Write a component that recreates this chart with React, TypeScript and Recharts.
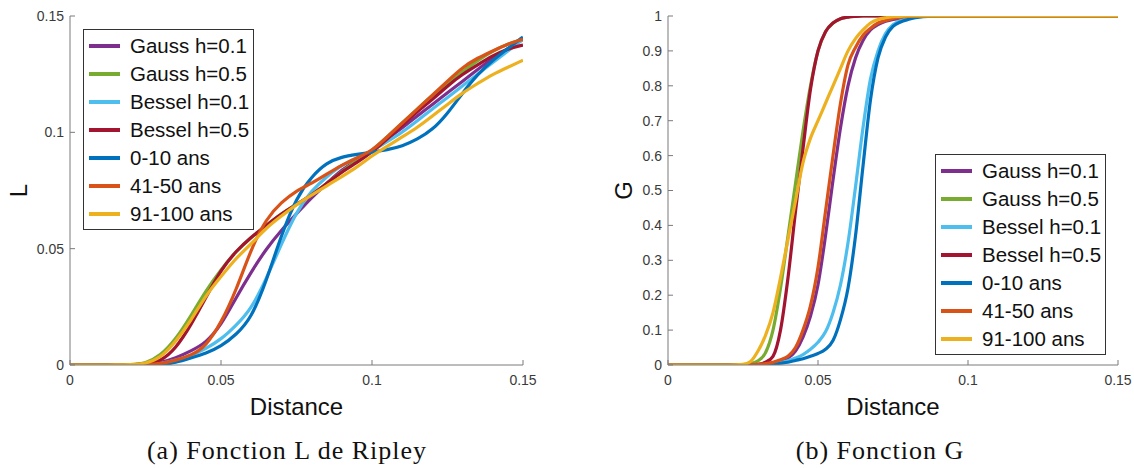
import React from 'react';
import { LineChart, Line, XAxis, YAxis, Legend, Label } from 'recharts';

// ---------- data ----------
const seriesNames = ['Gauss h=0.1', 'Gauss h=0.5', 'Bessel h=0.1', 'Bessel h=0.5', '0-10 ans', '41-50 ans', '91-100 ans'];
const seriesColors = ['#7E2F8E', '#77AC30', '#4DBEEE', '#A2142F', '#0072BD', '#D95319', '#EDB120'];

const xTicks = [0, 0.05, 0.1, 0.15];
const lTicks = [0, 0.05, 0.1, 0.15];
const gTicks = [0, 0.1, 0.2, 0.3, 0.4, 0.5, 0.6, 0.7, 0.8, 0.9, 1];

// Ripley L function
const distanceL = [0, 0.005, 0.01, 0.015, 0.02, 0.025, 0.03, 0.035, 0.04, 0.045, 0.05, 0.055, 0.06, 0.065, 0.07, 0.075, 0.08, 0.085, 0.09, 0.095, 0.1, 0.105, 0.11, 0.115, 0.12, 0.125, 0.13, 0.135, 0.14, 0.145, 0.15];
const lGaussH01 = [0, 0, 0, 0, 0, 0.0002, 0.001, 0.003, 0.006, 0.0095, 0.017, 0.029, 0.04, 0.05, 0.058, 0.065, 0.072, 0.078, 0.084, 0.088, 0.092, 0.097, 0.102, 0.107, 0.112, 0.117, 0.122, 0.127, 0.132, 0.136, 0.14];
const lGaussH05 = [0, 0, 0, 0, 0.0001, 0.0006, 0.004, 0.011, 0.021, 0.032, 0.041, 0.049, 0.055, 0.06, 0.065, 0.069, 0.073, 0.078, 0.083, 0.088, 0.092, 0.098, 0.104, 0.11, 0.116, 0.121, 0.126, 0.131, 0.135, 0.138, 0.14];
const lBesselH01 = [0, 0, 0, 0, 0, 0.0001, 0.0005, 0.002, 0.004, 0.007, 0.011, 0.017, 0.024, 0.037, 0.052, 0.066, 0.075, 0.081, 0.086, 0.089, 0.092, 0.096, 0.1, 0.105, 0.11, 0.115, 0.12, 0.125, 0.13, 0.135, 0.14];
const lBesselH05 = [0, 0, 0, 0, 0, 0.0003, 0.0015, 0.007, 0.017, 0.029, 0.041, 0.049, 0.055, 0.06, 0.065, 0.069, 0.073, 0.078, 0.083, 0.087, 0.0915, 0.097, 0.103, 0.109, 0.114, 0.12, 0.125, 0.129, 0.133, 0.136, 0.1375];
const lAge0to10 = [0, 0, 0, 0, 0, 0, 0, 0.001, 0.003, 0.005, 0.008, 0.013, 0.02, 0.036, 0.056, 0.072, 0.081, 0.087, 0.0895, 0.0905, 0.0915, 0.0925, 0.094, 0.097, 0.101, 0.108, 0.117, 0.125, 0.131, 0.136, 0.141];
const lAge41to50 = [0, 0, 0, 0, 0, 0.0002, 0.0005, 0.002, 0.004, 0.008, 0.018, 0.032, 0.05, 0.063, 0.07, 0.075, 0.078, 0.082, 0.086, 0.089, 0.092, 0.098, 0.104, 0.11, 0.116, 0.122, 0.128, 0.132, 0.135, 0.138, 0.14];
const lAge91to100 = [0, 0, 0, 0, 0.0001, 0.0005, 0.003, 0.01, 0.019, 0.03, 0.038, 0.046, 0.052, 0.059, 0.064, 0.069, 0.073, 0.077, 0.081, 0.085, 0.09, 0.094, 0.098, 0.102, 0.107, 0.112, 0.117, 0.121, 0.125, 0.128, 0.131];

// G function
const distanceG = [0, 0.01, 0.02, 0.025, 0.0275, 0.03, 0.0325, 0.035, 0.0375, 0.04, 0.0425, 0.045, 0.0475, 0.05, 0.0525, 0.055, 0.0575, 0.06, 0.0625, 0.065, 0.0675, 0.07, 0.0725, 0.075, 0.0775, 0.08, 0.0825, 0.085, 0.0875, 0.09, 0.1, 0.15];
const gGaussH01 = [0, 0, 0, 0, 0.0005, 0.001, 0.003, 0.006, 0.012, 0.02, 0.04, 0.08, 0.14, 0.23, 0.37, 0.53, 0.68, 0.8, 0.88, 0.93, 0.96, 0.975, 0.985, 0.99, 0.994, 0.997, 0.998, 0.999, 1, 1, 1, 1];
const gGaussH05 = [0, 0, 0, 0.001, 0.004, 0.012, 0.035, 0.1, 0.22, 0.37, 0.52, 0.67, 0.8, 0.9, 0.955, 0.98, 0.992, 0.997, 0.999, 1, 1, 1, 1, 1, 1, 1, 1, 1, 1, 1, 1, 1];
const gBesselH01 = [0, 0, 0, 0, 0, 0, 0.001, 0.003, 0.007, 0.012, 0.02, 0.03, 0.045, 0.065, 0.095, 0.15, 0.23, 0.35, 0.51, 0.68, 0.82, 0.9, 0.95, 0.975, 0.987, 0.993, 0.997, 0.999, 1, 1, 1, 1];
const gBesselH05 = [0, 0, 0, 0, 0.001, 0.002, 0.008, 0.025, 0.1, 0.25, 0.44, 0.62, 0.79, 0.9, 0.955, 0.98, 0.992, 0.997, 0.999, 1, 1, 1, 1, 1, 1, 1, 1, 1, 1, 1, 1, 1];
const gAge0to10 = [0, 0, 0, 0, 0, 0, 0.001, 0.002, 0.005, 0.008, 0.013, 0.018, 0.025, 0.033, 0.045, 0.07, 0.13, 0.22, 0.37, 0.57, 0.76, 0.88, 0.94, 0.97, 0.983, 0.99, 0.995, 0.998, 0.999, 1, 1, 1];
const gAge41to50 = [0, 0, 0, 0, 0.001, 0.002, 0.004, 0.008, 0.015, 0.025, 0.05, 0.1, 0.17, 0.28, 0.44, 0.6, 0.75, 0.86, 0.91, 0.945, 0.965, 0.98, 0.987, 0.993, 0.996, 0.999, 1, 1, 1, 1, 1, 1];
const gAge91to100 = [0, 0, 0, 0.002, 0.01, 0.04, 0.085, 0.15, 0.25, 0.36, 0.47, 0.58, 0.65, 0.7, 0.75, 0.8, 0.85, 0.9, 0.935, 0.96, 0.98, 0.99, 0.995, 0.998, 0.999, 1, 1, 1, 1, 1, 1, 1];

const lSeries = [lGaussH01, lGaussH05, lBesselH01, lBesselH05, lAge0to10, lAge41to50, lAge91to100];
const gSeries = [gGaussH01, gGaussH05, gBesselH01, gBesselH05, gAge0to10, gAge41to50, gAge91to100];

const buildRows = (xs: number[], series: number[][]) =>
  xs.map((d, i) => {
    const row: Record<string, number> = { d };
    series.forEach((s, k) => {
      row[`s${k}`] = s[i];
    });
    return row;
  });

const lRows = buildRows(distanceL, lSeries);
const gRows = buildRows(distanceG, gSeries);

// ---------- styles ----------
const SANS = '"Liberation Sans", Arial, Helvetica, sans-serif';
const SERIF = '"Liberation Serif", "Times New Roman", serif';
const AXIS_COLOR = '#7a7a7a';
const TICK_COLOR = '#3a3a3a';

const LegendBox = () => (
  <div
    style={{
      border: '1px solid #333',
      background: '#fff',
      width: 169,
      padding: '2px 0 1px 0',
      fontFamily: SANS,
      fontSize: 20.5,
      color: '#111',
      boxSizing: 'content-box',
    }}
  >
    {seriesNames.map((n, k) => (
      <div key={n} style={{ display: 'flex', alignItems: 'center', height: 28 }}>
        <div style={{ width: 31, height: 4, background: seriesColors[k], marginLeft: 5, marginRight: 10 }} />
        <span style={{ whiteSpace: 'nowrap', lineHeight: '28px' }}>{n}</span>
      </div>
    ))}
  </div>
);

const YTitle = (props: any) => {
  const { viewBox, value, dx } = props;
  const cx = viewBox.x + dx;
  const cy = viewBox.y + viewBox.height / 2;
  return (
    <text
      x={cx}
      y={cy}
      transform={`rotate(-90 ${cx} ${cy})`}
      textAnchor="middle"
      dominantBaseline="central"
      fontFamily={SANS}
      fontSize={24}
      fill="#111"
    >
      {value}
    </text>
  );
};

const XTitle = (props: any) => {
  const { viewBox, value } = props;
  const cx = viewBox.x + viewBox.width / 2;
  const cy = viewBox.y + 50;
  return (
    <text x={cx} y={cy} textAnchor="middle" fontFamily={SANS} fontSize={24} fill="#111">
      {value}
    </text>
  );
};

type PanelProps = {
  rows: Record<string, number>[];
  yTicks: number[];
  yMax: number;
  width: number;
  yAxisWidth: number;
  rightMargin: number;
  yTitle: string;
  yTitleDx: number;
  legendLeft: number;
  legendTop: number;
  curve: 'basis' | 'monotone';
};

const Panel = ({ rows, yTicks, yMax, width, yAxisWidth, rightMargin, yTitle, yTitleDx, legendLeft, legendTop, curve }: PanelProps) => (
  <LineChart width={width} height={430} data={rows} margin={{ top: 16, right: rightMargin, left: 0, bottom: 5 }}>
    <XAxis
      dataKey="d"
      type="number"
      domain={[0, 0.15]}
      ticks={xTicks}
      interval={0}
      allowDataOverflow
      height={60}
      tickSize={-5}
      tickMargin={15}
      axisLine={{ stroke: AXIS_COLOR, strokeWidth: 1 }}
      tickLine={{ stroke: AXIS_COLOR, strokeWidth: 1 }}
      tick={{ fill: TICK_COLOR, fontSize: 14, fontFamily: SANS }}
    >
      <Label value="Distance" content={<XTitle />} />
    </XAxis>
    <YAxis
      type="number"
      domain={[0, yMax]}
      ticks={yTicks}
      interval={0}
      allowDataOverflow
      width={yAxisWidth}
      tickSize={-5}
      tickMargin={11}
      axisLine={{ stroke: AXIS_COLOR, strokeWidth: 1 }}
      tickLine={{ stroke: AXIS_COLOR, strokeWidth: 1 }}
      tick={{ fill: TICK_COLOR, fontSize: 14, fontFamily: SANS }}
    >
      <Label value={yTitle} content={<YTitle dx={yTitleDx} />} />
    </YAxis>
    {seriesNames.map((n, k) => (
      <Line
        key={n}
        dataKey={`s${k}`}
        name={n}
        type={curve}
        stroke={seriesColors[k]}
        strokeWidth={3.2}
        dot={false}
        activeDot={false}
        isAnimationActive={false}
      />
    ))}
    <Legend
      layout="vertical"
      align="center"
      verticalAlign="middle"
      content={() => <LegendBox />}
      wrapperStyle={{ left: legendLeft, top: legendTop, width: 171, height: 200 }}
    />
  </LineChart>
);

const captionStyle: React.CSSProperties = {
  position: 'absolute',
  top: 436,
  fontFamily: SERIF,
  fontSize: 26,
  letterSpacing: 1,
  color: '#111',
  whiteSpace: 'nowrap',
  transform: 'translateX(-50%)',
  lineHeight: '30px',
};

export default function App() {
  return (
    <div style={{ position: 'absolute', left: 0, top: 0, width: 1134, height: 468, background: '#fff', overflow: 'hidden' }}>
      <div style={{ position: 'absolute', left: 0, top: 0 }}>
        <Panel
          rows={lRows}
          yTicks={lTicks}
          yMax={0.15}
          width={560}
          yAxisWidth={70}
          rightMargin={37}
          yTitle="L"
          yTitleDx={18}
          legendLeft={83}
          legendTop={29}
          curve="basis"
        />
      </div>
      <div style={{ position: 'absolute', left: 560, top: 0 }}>
        <Panel
          rows={gRows}
          yTicks={gTicks}
          yMax={1}
          width={574}
          yAxisWidth={108}
          rightMargin={16}
          yTitle="G"
          yTitleDx={63}
          legendLeft={375}
          legendTop={154}
          curve="monotone"
        />
      </div>
      <div style={{ ...captionStyle, left: 287 }}>(a) Fonction L de Ripley</div>
      <div style={{ ...captionStyle, left: 880 }}>(b) Fonction G</div>
    </div>
  );
}
